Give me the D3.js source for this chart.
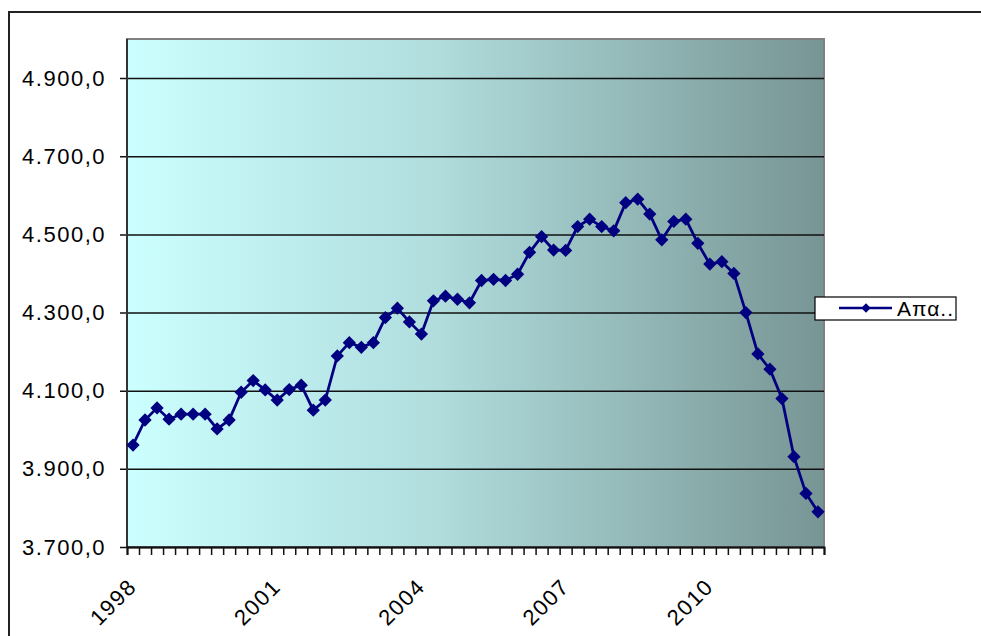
<!DOCTYPE html>
<html>
<head>
<meta charset="utf-8">
<script src="https://cdn.jsdelivr.net/npm/d3@7"></script>
<style>
  body { margin: 0; background: #fff; }
  svg { display: block; font-family: "Liberation Sans", Arial, sans-serif; }
</style>
</head>
<body>
<div id="chart"></div>
<script>
// quarterly values, 1998 Q1 .. 2012 Q2
var years = d3.range(1998, 2013);
var quarters = [];
years.forEach(function (y) {
    for (var q = 1; q <= 4; q++) quarters.push(y + "Q" + q);
});
quarters = quarters.slice(0, 58);

var values = [
    3961, 4025, 4056, 4027, 4040, 4040, 4040, 4002, 4025, 4096,
    4126, 4102, 4076, 4103, 4114, 4050, 4076, 4189, 4223, 4211,
    4223, 4287, 4311, 4276, 4245, 4330, 4342, 4334, 4325, 4382,
    4385, 4382, 4398, 4454, 4494, 4460, 4459, 4520, 4539, 4520,
    4509, 4581, 4590, 4552, 4486, 4533, 4539, 4477, 4424, 4430,
    4400, 4300, 4194, 4155, 4080, 3931, 3837, 3790
];
var yTicks = [3700, 3900, 4100, 4300, 4500, 4700, 4900];
var xLabels = ["1998", "2001", "2004", "2007", "2010"];
var seriesName = "Απα..";

var width = 981, height = 636;
var margin = {top: 39, left: 127, right: 157, bottom: 89};

var svg = d3.select("#chart").append("svg")
    .attr("width", width)
    .attr("height", height);

// outer chart frame
svg.append("rect")
    .attr("x", 9).attr("y", 12)
    .attr("width", 1000).attr("height", 700)
    .attr("fill", "none")
    .attr("stroke", "#222")
    .attr("stroke-width", 2);

var x = d3.scaleBand()
    .domain(quarters)
    .range([margin.left, width - margin.right]);
var y = d3.scaleLinear()
    .domain([3700, 5000])
    .range([height - margin.bottom, margin.top]);

var fmt = d3.formatLocale({decimal: ",", thousands: ".", grouping: [3], currency: ["", "€"]}).format(",.1f");

// plot area gradient
var defs = svg.append("defs");
var grad = defs.append("linearGradient").attr("id", "bg")
    .attr("x1", "0%").attr("x2", "100%").attr("y1", "0%").attr("y2", "0%");
grad.append("stop").attr("offset", "0%").attr("stop-color", "#ccffff");
grad.append("stop").attr("offset", "45%").attr("stop-color", "#b0dcdc");
grad.append("stop").attr("offset", "100%").attr("stop-color", "#779594");

var x0 = x.range()[0], x1 = x.range()[1];
var yb = y(3700), yt = y(5000);

svg.append("rect")
    .attr("x", x0).attr("y", yt)
    .attr("width", x1 - x0).attr("height", yb - yt)
    .attr("fill", "url(#bg)")
    .attr("stroke", "#808080")
    .attr("stroke-width", 2);

// gridlines + y axis
var yAxis = d3.axisLeft(y)
    .tickValues(yTicks)
    .tickSize(-(x1 - x0))
    .tickPadding(21)
    .tickFormat(fmt);
var gy = svg.append("g")
    .attr("transform", "translate(" + x0 + ",0)")
    .call(yAxis);
gy.select(".domain").remove();
gy.selectAll(".tick line")
    .attr("x1", -7)
    .attr("stroke", "#111")
    .attr("stroke-width", 1.5);
gy.selectAll(".tick text")
    .attr("font-size", 22)
    .attr("letter-spacing", 1.5)
    .attr("fill", "#000");

svg.append("line")
    .attr("x1", x0).attr("x2", x0)
    .attr("y1", yt).attr("y2", yb)
    .attr("stroke", "#333").attr("stroke-width", 2);

// x axis: ticks between categories
var xb = d3.scaleLinear().domain([0, quarters.length]).range([x0, x1]);
var gx = svg.append("g")
    .attr("transform", "translate(0," + yb + ")")
    .call(d3.axisBottom(xb).tickValues(d3.range(quarters.length + 1)).tickSize(8).tickFormat(""));
gx.select(".domain").attr("stroke", "#111").attr("stroke-width", 2);
gx.selectAll(".tick line").attr("stroke", "#111").attr("stroke-width", 1.5);

svg.append("g").selectAll("text")
    .data(xLabels)
    .enter()
    .append("text")
    .attr("transform", function (d) {
        return "translate(" + (x(d + "Q1") + x.bandwidth() / 2 + 5) + "," + 588 + ") rotate(-45)";
    })
    .attr("text-anchor", "end")
    .attr("font-size", 22)
    .attr("letter-spacing", 1.5)
    .attr("fill", "#000")
    .text(function (d) { return d; });

// series line
var line = d3.line()
    .x(function (d, i) { return x(quarters[i]) + x.bandwidth() / 2; })
    .y(function (d) { return y(d); });

svg.append("path")
    .datum(values)
    .attr("d", line)
    .attr("fill", "none")
    .attr("stroke", "#000080")
    .attr("stroke-width", 2.8);

var diamond = d3.symbol().type(d3.symbolSquare).size(88);
svg.append("g").selectAll("path")
    .data(values)
    .enter()
    .append("path")
    .attr("d", diamond)
    .attr("transform", function (d, i) {
        return "translate(" + (x(quarters[i]) + x.bandwidth() / 2) + "," + y(d) + ") rotate(45)";
    })
    .attr("fill", "#000080");

// legend
var lg = svg.append("g").attr("transform", "translate(815,297)");
lg.append("rect")
    .attr("width", 141).attr("height", 23)
    .attr("fill", "#fff")
    .attr("stroke", "#000")
    .attr("stroke-width", 1.2);
lg.append("line")
    .attr("x1", 24).attr("x2", 77)
    .attr("y1", 11).attr("y2", 11)
    .attr("stroke", "#000080").attr("stroke-width", 2.5);
lg.append("path")
    .attr("d", d3.symbol().type(d3.symbolSquare).size(44))
    .attr("transform", "translate(51,11) rotate(45)")
    .attr("fill", "#000080");
lg.append("text")
    .attr("x", 82).attr("y", 19)
    .attr("font-size", 21)
    .attr("letter-spacing", 1)
    .attr("fill", "#000")
    .text(seriesName);
</script>
</body>
</html>
